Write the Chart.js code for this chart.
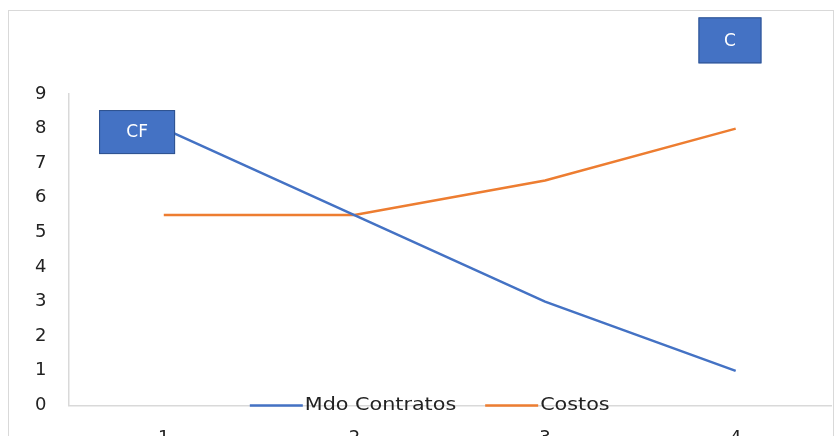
<!DOCTYPE html>
<html>
<head>
<meta charset="utf-8">
<script src="https://cdn.jsdelivr.net/npm/chart.js@4/dist/chart.umd.min.js"></script>
<style>
  html, body { margin: 0; padding: 0; background: #fff; overflow: hidden; }
  #frame { position: absolute; left: 8px; top: 10px; width: 824px; height: 460px; border: 1px solid #d9d9d9; }
  #wrap { position: absolute; left: 0; top: 0; width: 836px; height: 473px; }
</style>
</head>
<body>
<div id="frame"></div>
<div id="wrap"><canvas id="chart"></canvas></div>
<script>
const categories = ['1', '2', '3', '4'];
const mdoContratos = [8, 5.5, 3, 1];
const costos = [5.5, 5.5, 6.5, 8];
const yTicks = [0, 1, 2, 3, 4, 5, 6, 7, 8, 9];
// text boxes placed in data space (x = category index, y = value)
const boxes = [
  { text: 'CF', x: -0.14, y: 7.9, w: 76, h: 44 },
  { text: 'C', x: 2.97, y: 10.55, w: 63, h: 46 }
];

const FONT = 'DejaVu Sans';

// legend drawn inside the plot, on top of the x axis line
const innerLegend = {
  id: 'innerLegend',
  afterDatasetsDraw(chart) {
    const ctx = chart.ctx;
    const area = chart.chartArea;
    ctx.save();
    ctx.font = '18px ' + FONT;
    ctx.textBaseline = 'middle';
    const y = area.bottom;
    const lineLen = 53;
    const gap = 2;
    const between = 29;
    const stretch = 1.15;
    const items = chart.data.datasets.map(ds => ({
      label: ds.label, color: ds.borderColor, w: ctx.measureText(ds.label).width * stretch
    }));
    let total = 0;
    items.forEach((it, i) => { total += lineLen + gap + it.w + (i ? between : 0); });
    let x = (area.left + area.right) / 2 - total / 2 - 20;
    items.forEach(it => {
      ctx.strokeStyle = it.color;
      ctx.lineWidth = 2.5;
      ctx.beginPath();
      ctx.moveTo(x, y);
      ctx.lineTo(x + lineLen, y);
      ctx.stroke();
      x += lineLen + gap;
      ctx.fillStyle = '#222';
      ctx.save();
      ctx.translate(x, y);
      ctx.scale(stretch, 1);
      ctx.fillText(it.label, 0, 0);
      ctx.restore();
      x += it.w + between;
    });
    ctx.restore();
  }
};

const textBoxes = {
  id: 'textBoxes',
  afterDraw(chart) {
    const ctx = chart.ctx;
    const xs = chart.scales.x, ys = chart.scales.y;
    const step = xs.getPixelForValue(1) - xs.getPixelForValue(0);
    ctx.save();
    boxes.forEach(b => {
      const cx = xs.getPixelForValue(0) + b.x * step;
      const cy = ys.getPixelForValue(b.y);
      ctx.fillStyle = '#4472C4';
      ctx.fillRect(cx - b.w / 2, cy - b.h / 2, b.w, b.h);
      ctx.strokeStyle = '#2F528F';
      ctx.lineWidth = 1;
      ctx.strokeRect(cx - b.w / 2 + 0.5, cy - b.h / 2 + 0.5, b.w - 1, b.h - 1);
      ctx.fillStyle = '#fff';
      ctx.font = '17px ' + FONT;
      ctx.textAlign = 'center';
      ctx.textBaseline = 'middle';
      ctx.fillText(b.text, cx, cy + 1);
    });
    ctx.restore();
  }
};

new Chart(document.getElementById('chart'), {
  type: 'line',
  data: {
    labels: categories,
    datasets: [
      { label: 'Mdo Contratos', data: mdoContratos, borderColor: '#4472C4', borderWidth: 2.5, pointRadius: 0, tension: 0 },
      { label: 'Costos', data: costos, borderColor: '#ED7D31', borderWidth: 2.5, pointRadius: 0, tension: 0 }
    ]
  },
  options: {
    responsive: true,
    maintainAspectRatio: false,
    animation: false,
    layout: { padding: { top: 94, left: 13, right: 5, bottom: 2 } },
    plugins: { legend: { display: false }, tooltip: { enabled: false } },
    scales: {
      x: {
        offset: true,
        grid: { display: false, drawTicks: false },
        border: { color: '#d9d9d9', width: 1.5 },
        ticks: { color: '#222', font: { family: FONT, size: 18 }, padding: 22 }
      },
      y: {
        min: 0,
        max: 9,
        afterBuildTicks: axis => { axis.ticks = yTicks.map(v => ({ value: v })); },
        grid: { display: false, drawTicks: false },
        border: { color: '#d9d9d9', width: 1.5 },
        ticks: { color: '#222', font: { family: FONT, size: 18 }, padding: 22 }
      }
    }
  },
  plugins: [innerLegend, textBoxes]
});
</script>
</body>
</html>
